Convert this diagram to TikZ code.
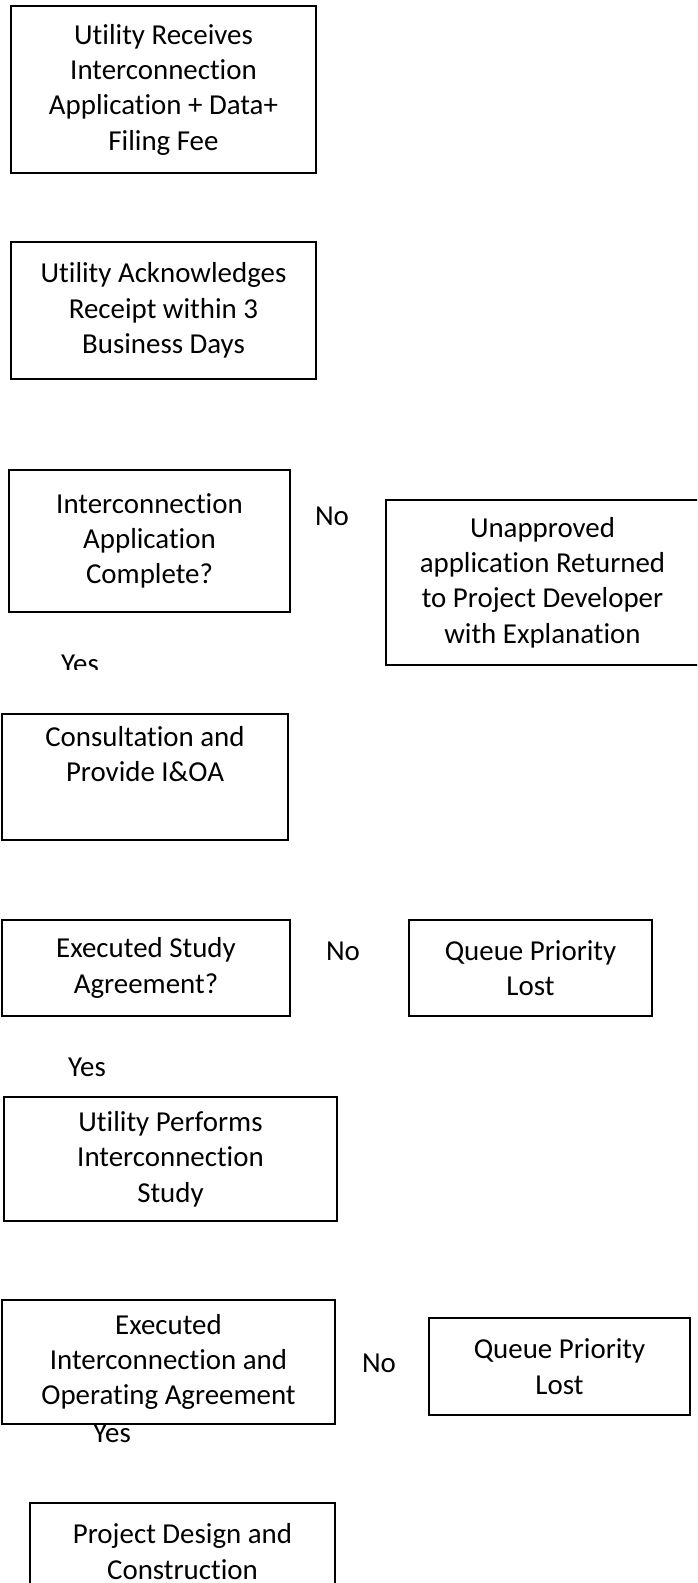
\documentclass[tikz,border=0pt]{standalone}
\usepackage{fontspec}
\setmainfont{Carlito}[Ligatures=NoCommon]
\usepackage{tikz}

\begin{document}
\begin{tikzpicture}[x=1pt,y=-1pt,
        every node/.style={font=\fontsize{28.9}{35.3}\selectfont,align=center,inner sep=0pt},
        stepbox/.style={draw,line width=1.6pt,minimum width=#1},
        lbl/.style={}]
        \clip (0,0) rectangle (697,1583);

        \node[stepbox=305,minimum height=167] (recv) at (163.5,89.5) {Utility Receives\\Interconnection\\Application + Data+\\Filing Fee};
        \node[stepbox=305,minimum height=137] (ack) at (163.5,310.5) {Utility Acknowledges\\Receipt within 3\\Business Days};

        \node[stepbox=281,minimum height=142] (complete) at (149.5,541) {Interconnection\\Application\\Complete?};
        \node[lbl] (noA) at (332,516) {No};
        \node[stepbox=313,minimum height=165] (returned) at (542.5,582.5) {Unapproved\\application Returned\\to Project Developer\\with Explanation};
        \begin{scope}
            \clip (0,640) rectangle (200,669);
            \node[lbl] (yesA) at (80,664) {Yes};
        \end{scope}

        \node[stepbox=286,minimum height=126] (consult) at (145,777) {Consultation and\\Provide I\&OA\\\strut};

        \node[stepbox=288,minimum height=96] (study) at (146,968) {Executed Study\\Agreement?};
        \node[lbl] (noB) at (343,951) {No};
        \node[stepbox=243,minimum height=96] (lostA) at (530.5,968) {Queue Priority\\Lost};
        \node[lbl] (yesB) at (87,1067) {Yes};

        \node[stepbox=333,minimum height=124] (perform) at (170.5,1159) {Utility Performs\\Interconnection\\Study};

        \node[stepbox=333,minimum height=124] (ioa) at (168.5,1362) {Executed\\Interconnection and\\Operating Agreement};
        \node[lbl] (noC) at (379,1363) {No};
        \node[stepbox=261,minimum height=97] (lostB) at (559.5,1366.5) {Queue Priority\\Lost};
        \begin{scope}
            \clip (0,1410) rectangle (250,1442);
            \node[lbl] (yesC) at (112,1433) {Yes};
        \end{scope}

        \node[stepbox=305,minimum height=97] (design) at (182.5,1551.5) {Project Design and\\Construction};
    \end{tikzpicture}
\end{document}
